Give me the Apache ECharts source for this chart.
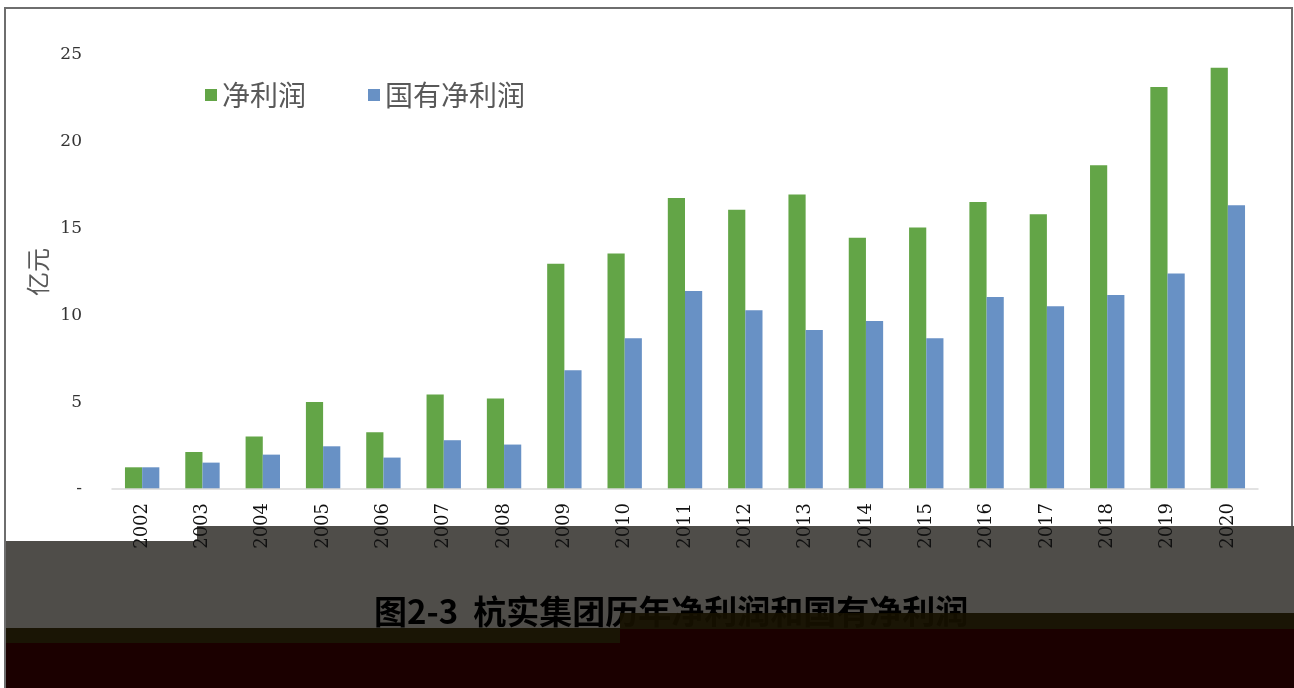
<!DOCTYPE html>
<html>
<head>
<meta charset="utf-8">
<script src="https://cdn.jsdelivr.net/npm/echarts@6/dist/echarts.min.js"></script>
<style>
html,body{margin:0;padding:0;background:#fff;}
#chart{width:1294px;height:688px;}
</style>
</head>
<body>
<div id="chart"></div>
<script>
var years = ['2002','2003','2004','2005','2006','2007','2008','2009','2010','2011','2012','2013','2014','2015','2016','2017','2018','2019','2020'];
var netProfit = [1.25, 2.13, 3.02, 5.01, 3.27, 5.44, 5.22, 12.98, 13.57, 16.76, 16.09, 16.96, 14.48, 15.07, 16.53, 15.82, 18.65, 23.16, 24.27];
var stateNetProfit = [1.25, 1.52, 1.98, 2.46, 1.81, 2.81, 2.56, 6.84, 8.68, 11.41, 10.29, 9.16, 9.68, 8.68, 11.06, 10.52, 11.18, 12.41, 16.34];
var seriesNames = ['净利润', '国有净利润'];
var yAxisName = '亿元';
var figureTitle = '图2-3  杭实集团历年净利润和国有净利润';

var chart = echarts.init(document.getElementById('chart'));
var serif = '"DejaVu Serif", "Liberation Serif", serif';
var cjk = '"Noto Sans CJK SC", sans-serif';
chart.setOption({
  animation: false,
  backgroundColor: '#ffffff',
  color: ['#63a547', '#6891c5'],
  legend: {
    left: 200, top: 76, z: 5,
    itemWidth: 12, itemHeight: 12, itemGap: 62,
    icon: 'rect',
    textStyle: { fontFamily: cjk, fontSize: 28, color: '#595959' },
    data: seriesNames
  },
  grid: { left: 112, right: 36, top: 55, bottom: 199, containLabel: false },
  xAxis: {
    type: 'category',
    data: years,
    z: 5,
    axisLine: { lineStyle: { color: '#d9d9d9', width: 1.5 } },
    axisTick: { show: false },
    axisLabel: { rotate: 90, margin: 14, fontFamily: serif, fontSize: 18, color: '#111111' }
  },
  yAxis: {
    type: 'value', min: 0, max: 25, interval: 5,
    name: yAxisName, nameLocation: 'middle', nameRotate: 90, nameGap: 62,
    nameTextStyle: { fontFamily: cjk, fontSize: 24, color: '#595959' },
    axisLine: { show: false }, axisTick: { show: false },
    splitLine: { show: false },
    axisLabel: {
      margin: 30, fontFamily: serif, fontSize: 17, color: '#333333',
      formatter: function (v) { return v === 0 ? '-' : String(v); }
    }
  },
  series: [
    { name: seriesNames[0], type: 'bar', data: netProfit, barGap: '0%', barCategoryGap: '43%' },
    { name: seriesNames[1], type: 'bar', data: stateNetProfit, barGap: '0%', barCategoryGap: '43%' }
  ],
  graphic: [
    { type: 'rect', shape: { x: 5, y: 526, width: 1289, height: 162 }, style: { fill: '#4f4d49' }, z: -10 },
    { type: 'rect', shape: { x: 5, y: 526, width: 192, height: 15 }, style: { fill: '#ffffff' }, z: -9 },
    { type: 'text', left: 374, top: 595, style: { text: figureTitle, font: 'bold 33px ' + cjk, fill: '#000000' }, z: -8 },
    { type: 'rect', shape: { x: 5, y: 628, width: 615, height: 15 }, style: { fill: '#161000', opacity: 0.92 }, z: -7 },
    { type: 'rect', shape: { x: 620, y: 613, width: 674, height: 16 }, style: { fill: '#161000', opacity: 0.92 }, z: -7 },
    { type: 'rect', shape: { x: 5, y: 643, width: 615, height: 45 }, style: { fill: '#1b0000' }, z: -7 },
    { type: 'rect', shape: { x: 620, y: 629, width: 674, height: 59 }, style: { fill: '#1b0000' }, z: -7 },
    { type: 'polyline', shape: { points: [[5, 688], [5, 8], [1292, 8], [1292, 526]] }, style: { stroke: '#6e6e6e', lineWidth: 2, fill: null }, z: -6 }
  ]
});
</script>
</body>
</html>
